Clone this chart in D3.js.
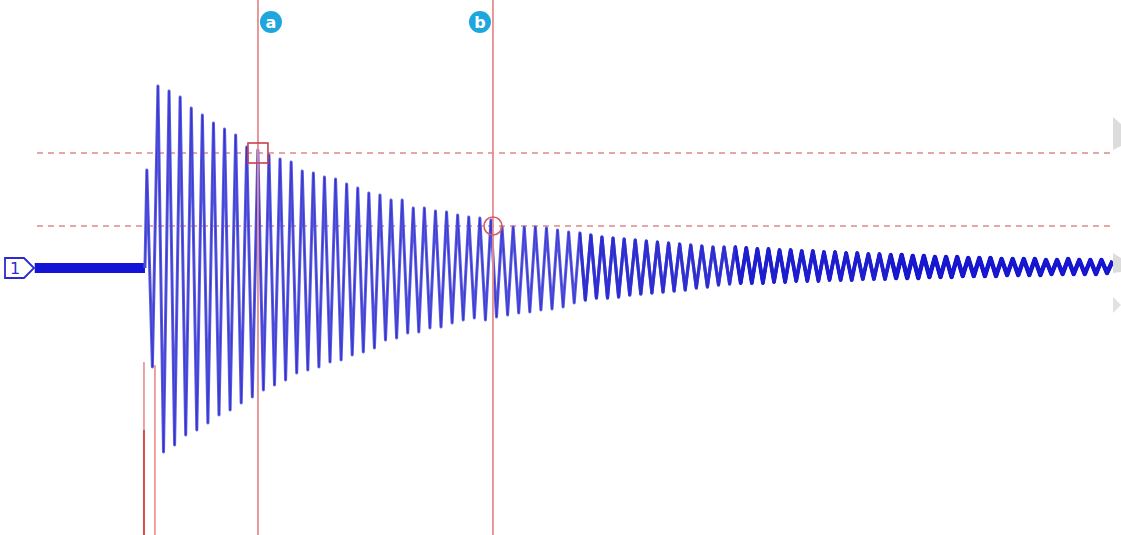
<!DOCTYPE html>
<html>
<head>
<meta charset="utf-8">
<script src="https://cdn.jsdelivr.net/npm/d3@7"></script>
<style>
  body { margin: 0; background: #fff; }
  svg { display: block; }
</style>
</head>
<body>
<div id="chart-container"></div>
<script>
// peak value of each cycle (volts), cycle -1 .. 86
const peakValues = [
  0.98, 1.82, 1.77, 1.71, 1.60, 1.53, 1.45, 1.39, 1.33, 1.21, 1.18,
  1.13, 1.09, 1.06, 0.97, 0.95, 0.91, 0.89, 0.84, 0.80, 0.75,
  0.73, 0.68, 0.68, 0.60, 0.60, 0.57, 0.56, 0.53, 0.51, 0.50,
  0.48, 0.41, 0.41, 0.41, 0.41, 0.40, 0.38, 0.36, 0.35, 0.33,
  0.31, 0.30, 0.29, 0.28, 0.27, 0.26, 0.25, 0.24, 0.23, 0.22,
  0.21, 0.21, 0.21, 0.20, 0.19, 0.19, 0.18, 0.18, 0.17, 0.17,
  0.16, 0.16, 0.15, 0.15, 0.14, 0.14, 0.13, 0.13, 0.12, 0.12,
  0.11, 0.11, 0.11, 0.10, 0.10, 0.10, 0.09, 0.09, 0.09, 0.09,
  0.08, 0.08, 0.09, 0.08, 0.08, 0.08, 0.07
];
// trough value of each cycle (volts), cycle -1 .. 85
const troughValues = [
  -0.99, -1.84, -1.77, -1.67, -1.62, -1.55, -1.47, -1.42, -1.35, -1.29, -1.22,
  -1.17, -1.12, -1.05, -1.02, -0.99, -0.94, -0.92, -0.87, -0.84, -0.80,
  -0.72, -0.70, -0.65, -0.64, -0.60, -0.59, -0.55, -0.52, -0.50, -0.52,
  -0.49, -0.47, -0.45, -0.44, -0.42, -0.41, -0.39, -0.35, -0.32, -0.30,
  -0.30, -0.29, -0.27, -0.26, -0.25, -0.24, -0.23, -0.22, -0.20, -0.19,
  -0.17, -0.16, -0.15, -0.15, -0.15, -0.14, -0.14, -0.13, -0.13, -0.13,
  -0.12, -0.12, -0.12, -0.11, -0.11, -0.11, -0.10, -0.10, -0.10, -0.09,
  -0.09, -0.09, -0.08, -0.08, -0.08, -0.08, -0.07, -0.07, -0.07, -0.07,
  -0.06, -0.06, -0.06, -0.06, -0.06, -0.05
];
const firstCycle = -1;

// flat trace before trigger (cycles, volts)
const preTrigger = [-11.1, -1.17];
const preTriggerNoise = 0.05;

// cursors (cycles) and measurement levels (volts)
const cursorNames = ["a", "b"];
const cursorCycles = [9.01, 30.18];
const levelValues = [1.15, 0.42];
const levelSpan = [-10.9, 85.8];

// trigger marks at the bottom (cycles) and their tops (volts)
const triggerCycles = [-1.26, -0.27];
const triggerTops = [-0.94, -0.97];

const w = 1121;
const h = 535;

const xScale = d3.scaleLinear().domain([-14.23, 86.76]).range([0, w]);
const yScale = d3.scaleLinear().domain([-2, 2]).range([468, 68]);

const svg = d3.select("#chart-container")
              .append("svg")
              .attr("width", w).attr("height", h);

// build waveform: peak at whole cycle, trough half a cycle later
const wave = [{c: preTrigger[1], v: 0}];
peakValues.forEach(function(p, i) {
  const c = firstCycle + i;
  wave.push({c: c, v: p});
  if (i < troughValues.length) wave.push({c: c + 0.5, v: troughValues[i]});
});

const line = d3.line().x(d => xScale(d.c)).y(d => yScale(d.v));

// dashed levels
svg.selectAll(".level").data(levelValues).enter().append("line")
   .attr("class", "level")
   .attr("x1", xScale(levelSpan[0])).attr("x2", xScale(levelSpan[1]))
   .attr("y1", d => yScale(d)).attr("y2", d => yScale(d))
   .attr("stroke", "#dc8a8a")
   .attr("stroke-width", 1.6)
   .attr("stroke-dasharray", "6,5");

// pre-trigger band
svg.append("rect")
   .attr("x", xScale(preTrigger[0]))
   .attr("width", xScale(preTrigger[1]) - xScale(preTrigger[0]))
   .attr("y", yScale(preTriggerNoise))
   .attr("height", yScale(-preTriggerNoise) - yScale(preTriggerNoise))
   .attr("fill", "#1414d6");

// waveform, thickening toward the tail like the blurred trace
const tails = [[-20, 3.0, "#5a5ade"], [38, 3.2, "#3434d4"], [52, 3.8, "#1c1cd0"], [66, 4.4, "#1414d0"]];
svg.selectAll(".tailclip").data(tails).enter().append("clipPath")
   .attr("class", "tailclip")
   .attr("id", (d, i) => "tail" + i)
   .append("rect").attr("x", d => xScale(d[0])).attr("y", 0)
   .attr("width", w).attr("height", h);

svg.selectAll(".wave").data(tails).enter().append("path")
   .attr("class", "wave")
   .attr("d", line(wave))
   .attr("clip-path", (d, i) => "url(#tail" + i + ")")
   .attr("fill", "none")
   .attr("stroke", d => d[2])
   .attr("stroke-width", d => d[1])
   .attr("stroke-linejoin", "round");

svg.append("path")
   .attr("d", line(wave))
   .attr("fill", "none")
   .attr("stroke", "#2222cc")
   .attr("stroke-width", 1)
   .attr("stroke-opacity", 0.55)
   .attr("stroke-linejoin", "round");

// trigger marks
svg.selectAll(".trig").data(triggerCycles).enter().append("line")
   .attr("class", "trig")
   .attr("x1", d => xScale(d)).attr("x2", d => xScale(d))
   .attr("y1", (d, i) => yScale(triggerTops[i])).attr("y2", h)
   .attr("stroke", "#e87a7a")
   .attr("stroke-width", 1.4);
svg.append("line")
   .attr("x1", xScale(triggerCycles[0])).attr("x2", xScale(triggerCycles[0]))
   .attr("y1", yScale(-1.62)).attr("y2", h)
   .attr("stroke", "#dd4c4c")
   .attr("stroke-width", 2);

// cursors
svg.selectAll(".cursor").data(cursorCycles).enter().append("line")
   .attr("class", "cursor")
   .attr("x1", d => xScale(d)).attr("x2", d => xScale(d))
   .attr("y1", 0).attr("y2", h)
   .attr("stroke", "#e88c8c")
   .attr("stroke-width", 1.8);

// cursor markers on the levels
svg.append("rect")
   .attr("x", xScale(cursorCycles[0]) - 10).attr("y", yScale(levelValues[0]) - 10)
   .attr("width", 20).attr("height", 20)
   .attr("fill", "none").attr("stroke", "#c8404e").attr("stroke-width", 1.6);
svg.append("circle")
   .attr("cx", xScale(cursorCycles[1])).attr("cy", yScale(levelValues[1]))
   .attr("r", 9)
   .attr("fill", "none").attr("stroke", "#d45a66").attr("stroke-width", 1.6);

// cursor badges
const badge = svg.selectAll(".badge").data(cursorNames).enter().append("g")
   .attr("class", "badge")
   .attr("transform", (d, i) => "translate(" + (xScale(cursorCycles[i]) + (i === 0 ? 13 : -13)) + ",22)");
badge.append("circle").attr("r", 11).attr("fill", "#1ea6de");
badge.append("text")
   .attr("text-anchor", "middle").attr("dy", "0.36em")
   .attr("font-family", "DejaVu Sans, sans-serif")
   .attr("font-size", 16).attr("font-weight", "bold")
   .attr("fill", "#fff")
   .text(d => d);

// channel 1 marker
const ch = svg.append("g").attr("transform", "translate(0," + yScale(0) + ")");
ch.append("path")
  .attr("d", "M5,-10 L24,-10 L34,0 L24,10 L5,10 Z")
  .attr("fill", "#fff").attr("stroke", "#2a2ad0").attr("stroke-width", 1.8);
ch.append("text")
  .attr("x", 15).attr("dy", "0.36em")
  .attr("text-anchor", "middle")
  .attr("font-family", "DejaVu Sans, sans-serif")
  .attr("font-size", 16)
  .attr("fill", "#2a2ad0")
  .text("1");

// grey controls clipped at the right edge
svg.append("path").attr("d", "M1113,117 L1121,124 L1121,146 L1113,150 Z").attr("fill", "#dcdcdc");
svg.append("path").attr("d", "M1113,253 L1121,258 L1121,272 L1113,273 Z").attr("fill", "#dcdcdc");
svg.append("path").attr("d", "M1113,297 L1121,305 L1113,313 Z").attr("fill", "#e2e2e2");
</script>
</body>
</html>
